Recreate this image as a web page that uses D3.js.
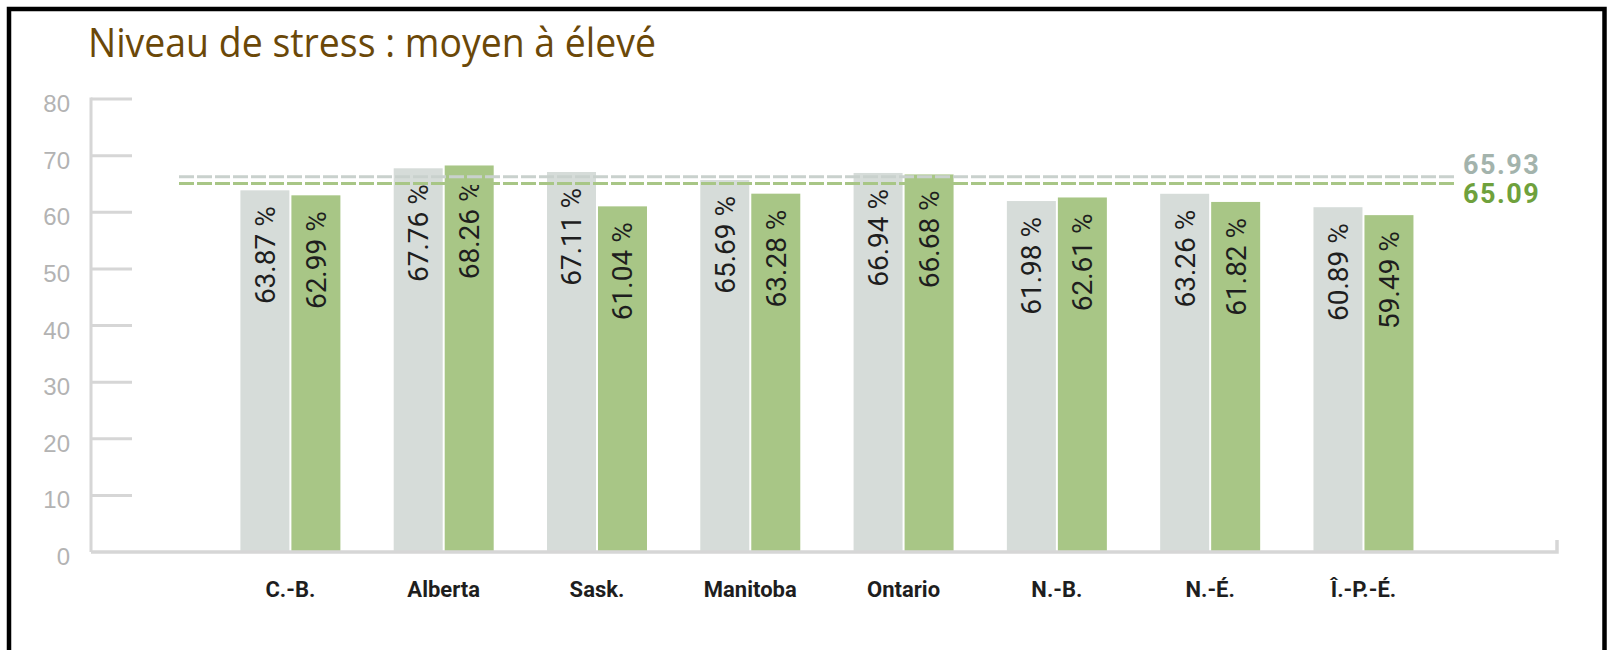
<!DOCTYPE html>
<html>
<head>
<meta charset="utf-8">
<script src="https://cdn.jsdelivr.net/npm/d3@7"></script>
<style>
  html, body { margin: 0; padding: 0; background: #fff; }
  svg { display: block; }
</style>
</head>
<body>
<svg id="chart"></svg>
<script>
// data
const title = "Niveau de stress : moyen à élevé";
const provinces = ["C.-B.", "Alberta", "Sask.", "Manitoba", "Ontario", "N.-B.", "N.-É.", "Î.-P.-É."];
const seriesGray = [63.87, 67.76, 67.11, 65.69, 66.94, 61.98, 63.26, 60.89];
const seriesGreen = [62.99, 68.26, 61.04, 63.28, 66.68, 62.61, 61.82, 59.49];
const avgGray = 65.93;
const avgGreen = 65.09;
const yTicks = [0, 10, 20, 30, 40, 50, 60, 70, 80];

const W = 1607, H = 650;
const svg = d3.select("#chart").attr("width", W).attr("height", H);

// black frame (no bottom edge visible)
svg.append("rect")
  .attr("x", 9).attr("y", 9)
  .attr("width", 1595.5).attr("height", 700)
  .attr("fill", "none").attr("stroke", "#000").attr("stroke-width", 4.5);

svg.append("text")
  .attr("x", 88).attr("y", 57)
  .attr("font-family", "'Open Sans', sans-serif")
  .attr("font-size", 40)
  .attr("font-weight", 500)
  .attr("fill", "#6b4808")
  .attr("textLength", 568)
  .attr("lengthAdjust", "spacingAndGlyphs")
  .text(title);

const axisX0 = 91, axisX1 = 1557;

const y = d3.scaleLinear().domain([0, 80]).range([552, 99]);
const x = d3.scaleBand().domain(provinces)
  .range([axisX0, axisX1])
  .paddingInner(0.3477).paddingOuter(0.9555).align(0.51);

const gap = 2;
const barW = (x.bandwidth() - gap) / 2;

// y ticks
const gridCol = "#d6d6d6";
svg.append("g").selectAll("line").data(yTicks.filter(d => d > 0)).join("line")
  .attr("x1", axisX0).attr("x2", axisX0 + 41)
  .attr("y1", d => y(d)).attr("y2", d => y(d))
  .attr("stroke", gridCol).attr("stroke-width", 3);

svg.append("g").selectAll("text").data(yTicks).join("text")
  .attr("x", 70).attr("y", d => y(d) + 13)
  .attr("text-anchor", "end")
  .attr("font-family", "'Liberation Sans', Arial, sans-serif")
  .attr("font-size", 24)
  .attr("fill", "#b3b3b3")
  .text(d => d);

// vertical axis line
svg.append("line")
  .attr("x1", axisX0).attr("x2", axisX0)
  .attr("y1", y(80) - 1.5).attr("y2", y(0))
  .attr("stroke", gridCol).attr("stroke-width", 3);

// bars
const groups = svg.append("g").selectAll("g").data(provinces).join("g")
  .attr("transform", d => "translate(" + x(d) + ",0)");

groups.append("rect")
  .attr("x", 0).attr("width", barW)
  .attr("y", (d, i) => y(seriesGray[i]))
  .attr("height", (d, i) => y(0) - y(seriesGray[i]))
  .attr("fill", "#d6dcd9");

groups.append("rect")
  .attr("x", barW + gap).attr("width", barW)
  .attr("y", (d, i) => y(seriesGreen[i]))
  .attr("height", (d, i) => y(0) - y(seriesGreen[i]))
  .attr("fill", "#a8c686");

const fmt = v => v.toFixed(2) + " %";
function barLabel(cx, vals) {
  groups.append("text")
    .attr("transform", (d, i) => "translate(" + (cx + 10) + "," + (y(vals[i]) + 16) + ") rotate(-90)")
    .attr("text-anchor", "end")
    .attr("font-family", "Roboto, sans-serif")
    .attr("font-size", 28)
    .attr("fill", "#1e1e1e")
    .text((d, i) => fmt(vals[i]));
}
barLabel(barW / 2, seriesGray);
barLabel(barW + gap + barW / 2, seriesGreen);

// average dashed lines (gray one nudged up a little, as in the original)
const dashX0 = 179, dashX1 = 1456;
[[avgGray, "#c9d1cd", -2], [avgGreen, "#a8c686", 0]].forEach(([v, c, dy]) => {
  svg.append("line")
    .attr("x1", dashX0).attr("x2", dashX1)
    .attr("y1", y(v) + dy).attr("y2", y(v) + dy)
    .attr("stroke", c).attr("stroke-width", 3)
    .attr("stroke-dasharray", "15,3");
});

svg.append("text")
  .attr("x", 1463).attr("y", 174)
  .attr("font-family", "Roboto, sans-serif").attr("font-weight", "bold")
  .attr("font-size", 27).attr("letter-spacing", 1.5)
  .attr("fill", "#a3b3ac")
  .text(avgGray.toFixed(2));

svg.append("text")
  .attr("x", 1463).attr("y", 203)
  .attr("font-family", "Roboto, sans-serif").attr("font-weight", "bold")
  .attr("font-size", 27).attr("letter-spacing", 1.5)
  .attr("fill", "#6fa13c")
  .text(avgGreen.toFixed(2));

// baseline with little end tick
svg.append("path")
  .attr("d", "M" + axisX0 + "," + y(0) + "H" + axisX1 + "V" + (y(0) - 12))
  .attr("fill", "none").attr("stroke", gridCol).attr("stroke-width", 3.5);

// category labels
svg.append("g").selectAll("text").data(provinces).join("text")
  .attr("x", d => x(d) + x.bandwidth() / 2)
  .attr("y", 597)
  .attr("text-anchor", "middle")
  .attr("font-family", "Roboto, sans-serif").attr("font-weight", "bold")
  .attr("font-size", 22)
  .attr("fill", "#1e1e1e")
  .text(d => d);
</script>
</body>
</html>
